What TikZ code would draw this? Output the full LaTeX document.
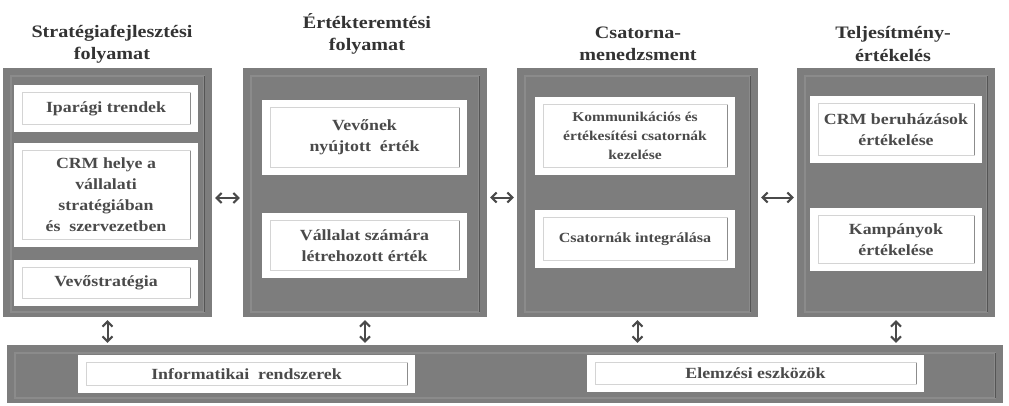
\documentclass[tikz,border=0pt]{standalone}
\usepackage{fontspec}
\setmainfont[FakeStretch=1.15]{Liberation Serif}
\usetikzlibrary{positioning,arrows.meta,calc}
\definecolor{cbox}{HTML}{7D7D7D}
\definecolor{cband}{HTML}{8B8B8B}
\definecolor{cedge}{HTML}{555555}
\definecolor{ctext}{HTML}{4A4A4A}
\definecolor{cline}{HTML}{D4D4D4}
\definecolor{carrow}{HTML}{4A4A4A}

\begin{document}
\begin{tikzpicture}[x=1pt, y=-1pt,
  panel/.style={fill=cbox, inner sep=0pt},
  item/.style={fill=white, inner sep=0pt, align=center, text=ctext, font=\fontsize{15.5}{21}\selectfont\bfseries},
  head/.style={align=center, text=black!80, font=\fontsize{17.5}{22.5}\selectfont\bfseries},
  link/.style={{Straight Barb[length=5pt,width=10pt,line width=2pt]}-{Straight Barb[length=5pt,width=10pt,line width=2pt]}, carrow, line width=2pt}]
 \useasboundingbox (0,0) rectangle (1009,405);
 % four process panels and the base bar
 \node[panel, minimum width=209, minimum height=249] (strat) at (107.5,192.5) {};
 \node[panel, minimum width=244, minimum height=249] (ertek) at (365,192.5) {};
 \node[panel, minimum width=241, minimum height=249] (csat) at (637.5,192.5) {};
 \node[panel, minimum width=198, minimum height=249] (telj) at (896,192.5) {};
 \node[panel, minimum width=996, minimum height=58] (infra) at (505,374) {};
 \foreach \n in {strat,ertek,csat,telj,infra} {
  \draw[cband, line width=2.5pt] ($(\n.north west)+(8,8)$) rectangle ($(\n.south east)+(-8,-5)$);
  \draw[cedge, line width=0.9pt] ($(\n.north east)+(-8,8)$) -- ($(\n.south east)+(-8,-5)$);
 }
 \node[head] (tstrat) at (112,44) {Stratégiafejlesztési\\folyamat};
 \node[head] (tertek) at (367,34) {Értékteremtési\\folyamat};
 \node[head] (tcsat) at (638,44) {Csatorna-\\menedzsment};
 \node[head] (ttelj) at (893,44) {Teljesítmény-\\értékelés};
 % white items
 \node[item, minimum width=184, minimum height=47] (ipar) at (106,108.5) {Iparági trendek};
 \node[item, minimum width=184, minimum height=104] (crmh) at (106,195) {CRM helye a\\vállalati\\stratégiában\\és\ \ szervezetben};
 \node[item, minimum width=184, minimum height=46] (vevo) at (106,283) {Vevőstratégia};
 \node[item, minimum width=205, minimum height=75] (nyujt) at (364.5,137.5) {Vevőnek\\nyújtott\ \ érték};
 \node[item, minimum width=205, minimum height=65] (letre) at (364.5,245.5) {Vállalat számára\\létrehozott érték};
 \node[item, minimum width=200, minimum height=78, font=\fontsize{13.5}{19}\selectfont\bfseries] (komm) at (635,136) {Kommunikációs és\\értékesítési csatornák\\kezelése};
 \node[item, minimum width=200, minimum height=58, font=\fontsize{14}{19}\selectfont\bfseries] (integ) at (635,239) {Csatornák integrálása};
 \node[item, minimum width=172, minimum height=67] (beruh) at (896,129.5) {CRM beruházások\\értékelése};
 \node[item, minimum width=172, minimum height=63] (kamp) at (896,239.5) {Kampányok\\értékelése};
 \node[item, minimum width=337, minimum height=38] (info) at (246.5,374) {Informatikai\ \ rendszerek};
 \node[item, minimum width=337, minimum height=37] (elem) at (755.5,373.5) {Elemzési eszközök};
 \foreach \n in {ipar,crmh,vevo,nyujt,letre,komm,integ,beruh,kamp,info,elem} {
  \draw[cline, line width=0.8pt] ($(\n.north west)+(9,8)$) rectangle ($(\n.south east)+(-8,-8)$);
  \draw[black!45, line width=0.9pt] ($(\n.north east)+(-8,8)$) -- ($(\n.south east)+(-8,-8)$);
 }
 % connectors
 \draw[link] ($(strat.east)+(3,5.5)$) -- ($(ertek.west)+(-3,5.5)$);
 \draw[link] ($(ertek.east)+(3,5)$) -- ($(csat.west)+(-3,5)$);
 \draw[link] ($(csat.east)+(3,5)$) -- ($(telj.west)+(-3,5)$);
 \foreach \n in {strat,ertek,csat,telj}
  \draw[link] ($(\n.south)+(0,3)$) -- ($(\n.south |- infra.north)+(0,-2)$);
\end{tikzpicture}
\end{document}
